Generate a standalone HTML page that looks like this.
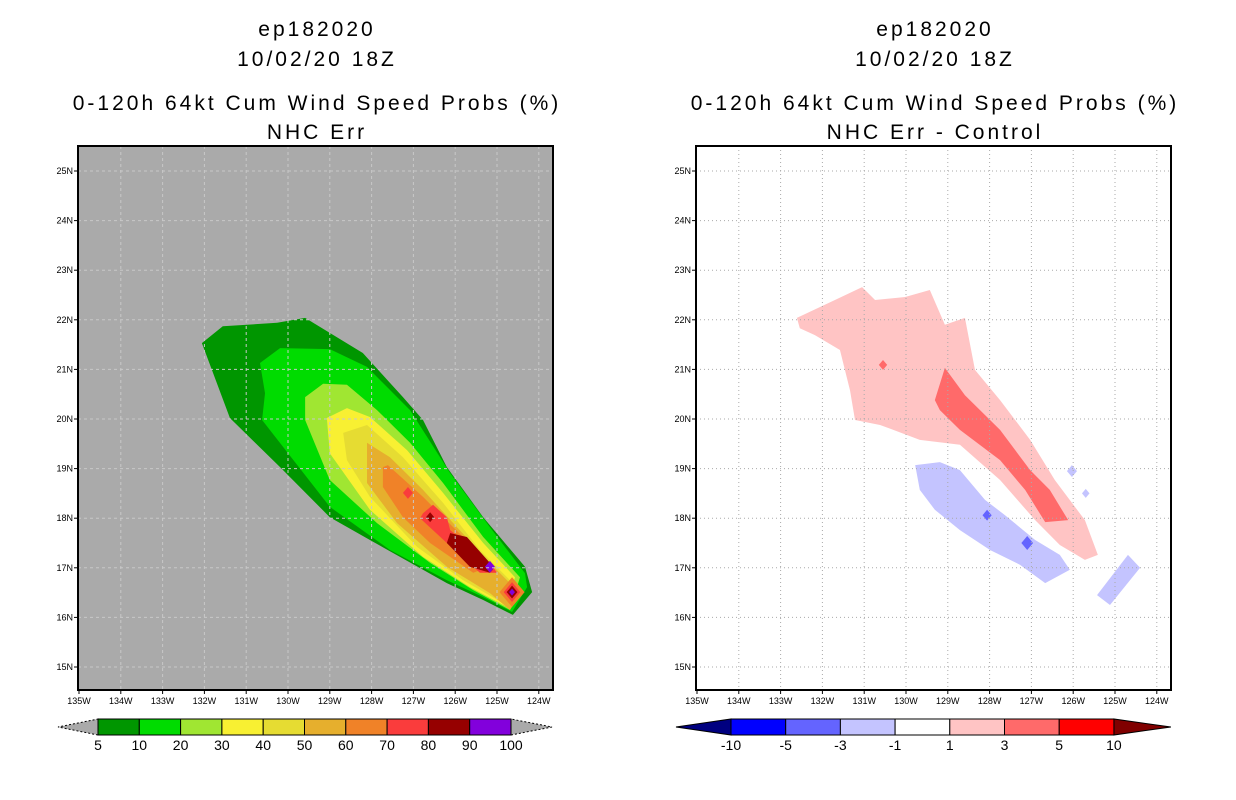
<!DOCTYPE html>
<html><head><meta charset="utf-8"><style>
html,body{margin:0;padding:0;background:#fff;}
svg{display:block;font-family:"Liberation Sans",sans-serif;}
</style></head><body>
<svg id="c" width="1236" height="800" viewBox="0 0 1236 800"></svg>
<script>
const lonTicks=[-135,-134,-133,-132,-131,-130,-129,-128,-127,-126,-125,-124];
const lonLabels=["135W","134W","133W","132W","131W","130W","129W","128W","127W","126W","125W","124W"];
const latTicks=[15,16,17,18,19,20,21,22,23,24,25];
const latLabels=["15N","16N","17N","18N","19N","20N","21N","22N","23N","24N","25N"];
const probLevels=["5","10","20","30","40","50","60","70","80","90","100"];
const probColors=["#009600","#00dc00","#a0e632","#f8f032","#e6dc32","#e6af2d","#f08228","#fa3c3c","#960000","#8200dc"];
const diffLevels=["-10","-5","-3","-1","1","3","5","10"];
const diffColors=["#0000ff","#6464ff","#c4c4ff","#ffffff","#ffc4c4","#ff6a6a","#ff0000"];
const probPolys=[
 [0,[[-132.06,21.53],[-131.56,21.87],[-130.26,21.94],[-129.59,22.04],[-128.21,21.33],[-127.25,20.44],[-126.77,19.98],[-126.2,19.03],[-125.33,18.02],[-124.33,17.02],[-124.16,16.51],[-124.62,16.05],[-125.33,16.35],[-126.2,16.69],[-126.77,16.96],[-128.04,17.56],[-129,18.02],[-130.19,19.03],[-131.39,20.02]]],
 [1,[[-130.67,21.13],[-130.19,21.43],[-129,21.41],[-128.11,21.05],[-127.08,20.18],[-126.12,18.91],[-125.17,17.82],[-124.33,16.89],[-124.28,16.61],[-124.64,16.11],[-125.33,16.41],[-126.2,16.75],[-127.56,17.36],[-129,18.23],[-130.62,19.98],[-130.55,20.52]]],
 [2,[[-129.59,20.44],[-129.16,20.71],[-128.59,20.69],[-127.87,20.18],[-127.08,19.52],[-126.29,18.71],[-125.33,17.62],[-124.45,16.81],[-124.69,16.15],[-125.57,16.55],[-126.6,17.1],[-127.87,17.9],[-129,18.77],[-129.59,19.98]]],
 [3,[[-129.07,20.02],[-128.59,20.22],[-128.04,20.04],[-127.15,19.37],[-126.29,18.51],[-125.33,17.5],[-124.57,16.81],[-124.76,16.21],[-125.65,16.61],[-126.77,17.22],[-128.04,18.17],[-129,19.31]]],
 [4,[[-128.68,19.72],[-128.11,19.88],[-127.25,19.23],[-126.29,18.31],[-125.41,17.36],[-124.69,16.75],[-124.86,16.29],[-125.81,16.75],[-126.91,17.42],[-128.04,18.43],[-128.59,19.17]]],
 [5,[[-128.11,19.52],[-127.56,19.23],[-126.77,18.57],[-125.96,17.82],[-125.17,17.1],[-124.69,16.69],[-124.38,16.55],[-124.69,16.15],[-125.17,16.49],[-126.2,17.02],[-127.39,17.9],[-128.11,18.71]]],
 [6,[[-127.73,19.03],[-127.61,19.07],[-126.77,18.43],[-126.05,17.82],[-125.33,17.22],[-125.17,17.02],[-125.57,16.9],[-126.6,17.5],[-127.25,18.02],[-127.73,18.63]]],
 [7,[[-126.77,18.1],[-126.53,18.27],[-126.2,18.02],[-126.12,17.76],[-125.33,17.22],[-125.1,17.02],[-125,16.9],[-125.41,16.9],[-126.2,17.5],[-126.84,18.0]]],
 [8,[[-126.12,17.7],[-125.72,17.62],[-125.17,17.1],[-125.1,16.96],[-125.17,16.9],[-125.65,17.02],[-126.2,17.5]]]
];
const probSpots=[[7,-127.13,18.51,0.12],[8,-126.6,18.02,0.1],[9,-125.17,17.02,0.12],[6,-124.64,16.51,0.3],[7,-124.64,16.51,0.2],[8,-124.64,16.51,0.13],[9,-124.64,16.51,0.07]];
const diffPolys=[
 [4,[[-132.61,22.04],[-131.7,22.4],[-131.05,22.66],[-130.74,22.4],[-130.02,22.46],[-129.43,22.6],[-129.07,21.9],[-128.59,22.04],[-128.35,20.99],[-127.75,20.38],[-127.03,19.58],[-126.44,18.77],[-125.72,17.96],[-125.41,17.26],[-125.72,17.16],[-126.32,17.46],[-126.91,17.96],[-127.75,18.77],[-128.71,19.48],[-129.67,19.58],[-130.62,19.88],[-131.22,19.98],[-131.34,20.58],[-131.58,21.39],[-132.18,21.69],[-132.54,21.83]]],
 [5,[[-129.31,20.38],[-129.07,21.03],[-128.59,20.48],[-127.75,19.78],[-127.03,18.97],[-126.56,18.57],[-126.12,17.96],[-126.67,17.92],[-127.15,18.57],[-127.75,19.17],[-128.71,19.78],[-129.19,20.18]]],
 [2,[[-129.78,19.07],[-129.19,19.13],[-128.71,18.97],[-128.11,18.37],[-127.63,18.06],[-126.91,17.56],[-126.32,17.26],[-126.08,16.96],[-126.67,16.69],[-127.27,17.06],[-127.99,17.36],[-128.71,17.76],[-129.31,18.17],[-129.67,18.57]]],
 [2,[[-125.43,16.45],[-124.69,17.26],[-124.4,17.0],[-125.12,16.25]]]
];
const diffSpots=[[5,-130.55,21.09,0.1],[1,-128.06,18.06,0.11],[1,-127.1,17.5,0.14],[2,-126.03,18.95,0.12],[2,-125.7,18.5,0.09]];

const svg=document.getElementById('c');
const NS='http://www.w3.org/2000/svg';
function mk(t,a,p){const e=document.createElementNS(NS,t);for(const k in a)e.setAttribute(k,a[k]);(p||svg).appendChild(e);return e;}
function panel(x0,title2,polys,spots,colors,bg,gridStyle,name){
  const g=mk('g',{});
  
  
  const X=lon=>x0+1+(lon+135)*41.8;
  const Y=lat=>171-(lat-25)*49.6;
  const r=mk('rect',{x:x0,y:146,width:475,height:544,fill:bg},g);
  
  
  for(const [li,pts] of polys){
    const p=mk('polygon',{points:pts.map(q=>X(q[0])+','+Y(q[1])).join(' '),fill:colors[li]},g);
    
    
  }
  for(const [li,lo,la,rd] of spots){
    const cx=X(lo),cy=Y(la),rx=rd*41.8,ry=rd*49.6;
    const p=mk('polygon',{points:`${cx-rx},${cy} ${cx},${cy-ry} ${cx+rx},${cy} ${cx},${cy+ry}`,fill:colors[li]},g);
    
    
  }
  lonTicks.forEach((lo,i)=>{
    const x=X(lo);
    if(x>x0+2&&x<x0+473){const l=mk('line',{x1:x,y1:146,x2:x,y2:690,stroke:gridStyle[0],'stroke-dasharray':gridStyle[1],'stroke-width':1},g);
    }
    mk('line',{x1:x,y1:690,x2:x,y2:694,stroke:'#000'},g);
    const t=mk('text',{x:x,y:704,'font-size':9,'text-anchor':'middle',fill:'#000'},g);t.textContent=lonLabels[i];
    
  });
  latTicks.forEach((la,i)=>{
    const y=Y(la);
    const l=mk('line',{x1:x0,y1:y,x2:x0+475,y2:y,stroke:gridStyle[0],'stroke-dasharray':gridStyle[1],'stroke-width':1},g);
    
    mk('line',{x1:x0-4,y1:y,x2:x0,y2:y,stroke:'#000'},g);
    const t=mk('text',{x:x0-5,y:y+3,'font-size':9,'text-anchor':'end',fill:'#000'},g);t.textContent=latLabels[i];
    
  });
  const b=mk('rect',{x:x0,y:146,width:475,height:544,fill:'none',stroke:'#000','stroke-width':2},g);
  
  const cx=x0+239;
  [['ep182020',36],['10/02/20 18Z',66],['0-120h 64kt Cum Wind Speed Probs (%)',110],[title2,139]].forEach(([s,y],i)=>{
    const t=mk('text',{x:cx,y:y,'font-size':21,'text-anchor':'middle',fill:'#000','letter-spacing':'3'},g);t.textContent=s;
    
  });
}
panel(78,'NHC Err',probPolys,probSpots,probColors,'#aaaaaa',['#c8c8c8','3,3'],'left-panel');
panel(696,'NHC Err - Control',diffPolys,diffSpots,diffColors,'#ffffff',['#aaaaaa','1,3'],'right-panel');

function colorbar(x0,w,n,colors,labels,lc,rc,name){
  const g=mk('g',{});
  
  
  const y0=719,h=16,x1=x0+w*n;
  const lt=mk('polygon',{points:`${x0},${y0} ${x0},${y0+h} ${x0-40-(name==='right-colorbar'?15:0)},${y0+h/2}`,fill:lc,stroke:'#000','stroke-dasharray':lc==='#aaaaaa'?'2,2':'none'},g);
  
  const rt=mk('polygon',{points:`${x1},${y0} ${x1},${y0+h} ${x1+41+(name==='right-colorbar'?16:0)},${y0+h/2}`,fill:rc,stroke:'#000','stroke-dasharray':rc==='#aaaaaa'?'2,2':'none'},g);
  
  colors.forEach((c,i)=>{
    const r=mk('rect',{x:x0+i*w,y:y0,width:w,height:h,fill:c,stroke:'#000'},g);
    
  });
  labels.forEach((s,i)=>{
    const t=mk('text',{x:x0+i*w,y:750,'font-size':14,'text-anchor':'middle',fill:'#000'},g);t.textContent=s;
    
  });
}
colorbar(98,41.3,10,probColors,probLevels,'#aaaaaa','#aaaaaa','left-colorbar');
colorbar(731,54.7,7,diffColors,diffLevels,'#000080','#800000','right-colorbar');
</script>
</body></html>
